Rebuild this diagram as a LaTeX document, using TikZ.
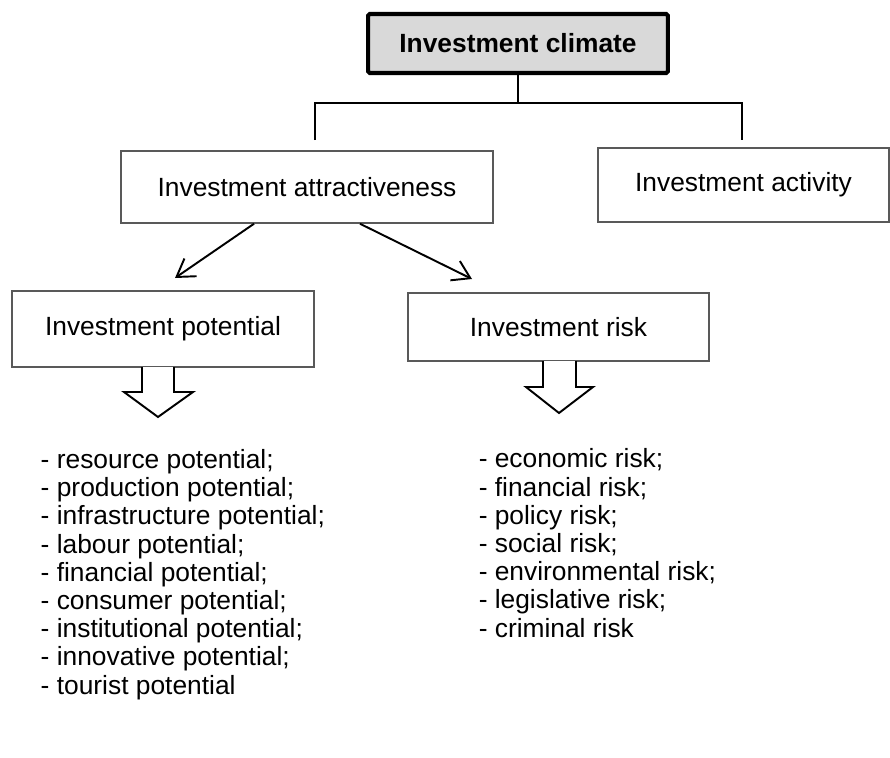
\documentclass[tikz,border=0pt]{standalone}
\usepackage{fontspec}
\setmainfont{Liberation Sans}
\usetikzlibrary{arrows.meta}

\begin{document}
\begin{tikzpicture}[x=0.02cm, y=-0.02cm, line width=0.85pt,
    main/.style = {draw=black!65, line width=0.85pt, rectangle, inner sep=0pt, font=\fontsize{15pt}{16pt}\selectfont},
    top/.style = {draw=black, line width=2.3pt, rounded corners=1pt, fill=black!15, inner sep=0pt, font=\fontsize{15pt}{16pt}\selectfont\bfseries},
    items/.style = {anchor=base west, align=left, inner sep=0pt, font=\fontsize{15pt}{16.05pt}\selectfont},
    arr/.style = {-{Straight Barb[length=3.4mm, width=4.3mm]}, line width=1.1pt},
    fat/.style = {draw=black, fill=white, line width=1.1pt, line join=miter}]
    \useasboundingbox (0,0) rectangle (890,758);
    \node[top] (1) at (518,43.5) [minimum width=6.0cm, minimum height=1.18cm] {Investment climate};
    \node[main] (2) at (307,187) [minimum width=7.44cm, minimum height=1.44cm] {Investment attractiveness};
    \node[main] (3) at (743.5,185) [minimum width=5.82cm, minimum height=1.48cm] {Investment activity};
    \node[main] (4) at (163,329) [minimum width=6.04cm, minimum height=1.52cm] {Investment potential};
    \node[main] (5) at (558.5,327) [minimum width=6.02cm, minimum height=1.36cm] {Investment risk};
    % tree lines
    \coordinate (bus) at (518,103);
    \coordinate (a) at (315,140);
    \coordinate (b) at (742,140);
    \draw (1.south) -- (bus);
    \draw (a) -- (315,103) -- (742,103) -- (b);
    % arrows
    \coordinate (t1) at (175,278);
    \coordinate (t2) at (472,279);
    \draw[arr] ([xshift=-1.06cm]2.south) -- (t1);
    \draw[arr] ([xshift=1.06cm]2.south) -- (t2);
    % block arrows
    \draw[fat] (142,367) -- (142,392) -- (124,392) -- (158,417) -- (193,392) -- (174,392) -- (174,367);
    \draw[fat] (543,361) -- (543,387) -- (526,387) -- (559,413) -- (593,387) -- (576,387) -- (576,361);
    % lists (base = last line)
    \node[items] (6) at (40,694) {- resource potential;\\- production potential;\\- infrastructure potential;\\- labour potential;\\- financial potential;\\- consumer potential;\\- institutional potential;\\- innovative potential;\\- tourist potential};
    \node[items] (7) at (478,637) {- economic risk;\\- financial risk;\\- policy risk;\\- social risk;\\- environmental risk;\\- legislative risk;\\- criminal risk};
\end{tikzpicture}
\end{document}
